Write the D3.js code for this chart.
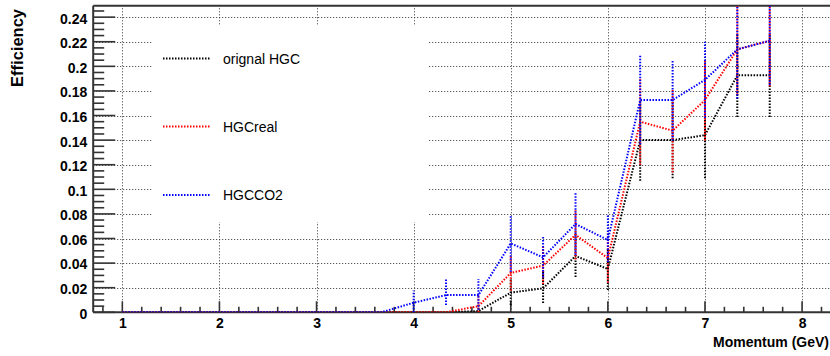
<!DOCTYPE html>
<html>
<head>
<meta charset="utf-8">
<script src="https://cdn.jsdelivr.net/npm/d3@7"></script>
<style>
  html, body { margin: 0; padding: 0; background: #fff; }
  svg { display: block; }
  text { font-family: "Liberation Sans", Arial, Helvetica, sans-serif; }
</style>
</head>
<body>
<svg id="chart" width="830" height="356"></svg>
<script>
// Bin centres (GeV)
const momentum = [1.000, 1.333, 1.667, 2.000, 2.333, 2.667, 3.000, 3.333, 3.667,
                  4.000, 4.333, 4.667, 5.000, 5.333, 5.667, 6.000, 6.333, 6.667,
                  7.000, 7.333, 7.667];

// Efficiency per bin with asymmetric errors
const effOrig     = [0,0,0,0,0,0,0,0,0, 0, 0, 0.001, 0.016, 0.0195, 0.0458, 0.0352, 0.140, 0.140, 0.144, 0.1927, 0.1927];
const errLoOrig   = [0,0,0,0,0,0,0,0,0, 0, 0, 0.001, 0.010, 0.012, 0.017, 0.017, 0.033, 0.031, 0.035, 0.034, 0.034];
const errHiOrig   = [0,0,0,0,0,0,0,0,0, 0, 0, 0.006, 0.011, 0.014, 0.020, 0.017, 0.033, 0.031, 0.035, 0.034, 0.034];

const effReal     = [0,0,0,0,0,0,0,0,0, 0, 0, 0.005, 0.032, 0.038, 0.063, 0.044, 0.155, 0.1477, 0.1726, 0.2138, 0.2208];
const errLoReal   = [0,0,0,0,0,0,0,0,0, 0, 0, 0.005, 0.0145, 0.015, 0.020, 0.020, 0.035, 0.034, 0.033, 0.037, 0.037];
const errHiReal   = [0,0,0,0,0,0,0,0,0, 0, 0, 0.009, 0.0145, 0.015, 0.020, 0.020, 0.035, 0.034, 0.033, 0.037, 0.037];

const effCO2      = [0,0,0,0,0,0,0,0,0, 0.0078, 0.014, 0.014, 0.056, 0.0447, 0.0718, 0.0588, 0.1726, 0.1726, 0.189, 0.2138, 0.2208];
const errLoCO2    = [0,0,0,0,0,0,0,0,0, 0.0078, 0.008, 0.012, 0.023, 0.0165, 0.025, 0.018, 0.036, 0.033, 0.031, 0.040, 0.036];
const errHiCO2    = [0,0,0,0,0,0,0,0,0, 0.010, 0.013, 0.013, 0.023, 0.0165, 0.025, 0.020, 0.036, 0.033, 0.031, 0.040, 0.036];

const seriesNames  = ["orignal HGC", "HGCreal", "HGCCO2"];
const seriesColors = ["#000000", "#ff0000", "#0000ff"];

const xTicks = [1, 2, 3, 4, 5, 6, 7, 8];
const yTicks = [0, 0.02, 0.04, 0.06, 0.08, 0.1, 0.12, 0.14, 0.16, 0.18, 0.2, 0.22, 0.24];

const series = [
  { name: seriesNames[0], color: seriesColors[0], eff: effOrig, lo: errLoOrig, hi: errHiOrig },
  { name: seriesNames[1], color: seriesColors[1], eff: effReal, lo: errLoReal, hi: errHiReal },
  { name: seriesNames[2], color: seriesColors[2], eff: effCO2,  lo: errLoCO2,  hi: errHiCO2 }
];

// Frame geometry
const frame = { left: 93.2, right: 831.2, top: 5.7, bottom: 312.3 };

const x = d3.scaleLinear().domain([0.7, 8.3]).range([frame.left, frame.right]);
const y = d3.scaleLinear().domain([0, 0.2493]).range([frame.bottom, frame.top]);

const svg = d3.select("#chart");

svg.append("defs").append("clipPath").attr("id", "plotClip")
  .append("rect")
  .attr("x", frame.left).attr("y", frame.top)
  .attr("width", frame.right - frame.left).attr("height", frame.bottom - frame.top);

// Grid
const grid = svg.append("g").attr("stroke", "#333").attr("stroke-width", 1)
  .attr("stroke-dasharray", "1,2");
grid.selectAll("line.v").data(xTicks).join("line")
  .attr("class", "v")
  .attr("x1", d => Math.round(x(d)) + 0.5).attr("x2", d => Math.round(x(d)) + 0.5)
  .attr("y1", frame.bottom).attr("y2", frame.top);
grid.selectAll("line.h").data(yTicks.filter(d => d > 0)).join("line")
  .attr("class", "h")
  .attr("y1", d => Math.round(y(d)) + 0.5).attr("y2", d => Math.round(y(d)) + 0.5)
  .attr("x1", frame.left).attr("x2", frame.right);

// Legend background hides the grid behind it
const legendBox = { x: 152, y: 26, w: 277, h: 196 };
svg.append("rect")
  .attr("x", legendBox.x).attr("y", legendBox.y)
  .attr("width", legendBox.w).attr("height", legendBox.h)
  .attr("fill", "#fff");

// Axes
const axisColor = "#333";
const xAxis = d3.axisBottom(x).tickValues(xTicks).tickFormat(d3.format("d"))
  .tickSize(0).tickPadding(8);
const gx = svg.append("g").attr("transform", `translate(0,${frame.bottom})`).call(xAxis);
gx.select(".domain").remove();
gx.selectAll("text").attr("font-size", 14).attr("font-weight", "bold").attr("fill", "#000")
  .attr("dy", null).attr("y", 16);

const yAxis = d3.axisLeft(y).tickValues(yTicks).tickFormat(d => d === 0 ? "0" : d3.format("")(+d.toFixed(2)))
  .tickSize(0).tickPadding(6);
const gy = svg.append("g").attr("transform", `translate(${frame.left},0)`).call(yAxis);
gy.select(".domain").remove();
gy.selectAll("text").attr("font-size", 14).attr("font-weight", "bold").attr("fill", "#000")
  .attr("dy", "0.42em");

// Tick marks
const ticks = svg.append("g").attr("stroke", axisColor).attr("stroke-width", 1.6);
const xMinor = d3.range(0.8, 8.3, 0.2).filter(v => Math.abs(v - Math.round(v)) > 1e-6);
ticks.selectAll("line.xm").data(xMinor).join("line")
  .attr("x1", d => x(d)).attr("x2", d => x(d))
  .attr("y1", frame.bottom).attr("y2", frame.bottom - 5.5);
ticks.selectAll("line.xM").data(xTicks).join("line")
  .attr("x1", d => x(d)).attr("x2", d => x(d))
  .attr("y1", frame.bottom).attr("y2", frame.bottom - 11);
const yMinor = d3.range(0, 0.2493, 0.005).filter(v => Math.abs(v / 0.02 - Math.round(v / 0.02)) > 1e-6);
ticks.selectAll("line.ym").data(yMinor).join("line")
  .attr("y1", d => y(d)).attr("y2", d => y(d))
  .attr("x1", frame.left).attr("x2", frame.left + 11);
ticks.selectAll("line.yM").data(yTicks).join("line")
  .attr("y1", d => y(d)).attr("y2", d => y(d))
  .attr("x1", frame.left).attr("x2", frame.left + 22);

// Frame lines
const frameG = svg.append("g").attr("stroke", axisColor).attr("stroke-width", 2);
frameG.append("line").attr("x1", frame.left).attr("x2", frame.right)
  .attr("y1", frame.bottom).attr("y2", frame.bottom);
frameG.append("line").attr("x1", frame.left).attr("x2", frame.left)
  .attr("y1", frame.bottom).attr("y2", frame.top);
frameG.append("line").attr("x1", frame.left).attr("x2", frame.right)
  .attr("y1", frame.top).attr("y2", frame.top);

// Data: error bars and connecting dotted lines
const plot = svg.append("g").attr("clip-path", "url(#plotClip)");
const line = d3.line().x(d => x(d.m)).y(d => y(d.v));
series.forEach(s => {
  const pts = momentum.map((m, i) => ({ m, v: s.eff[i], lo: s.lo[i], hi: s.hi[i] }));
  const g = plot.append("g").attr("stroke", s.color).attr("stroke-width", 2)
    .attr("stroke-dasharray", "1.5,1.5").attr("fill", "none");
  g.selectAll("line").data(pts.filter(p => p.lo > 0 || p.hi > 0)).join("line")
    .attr("x1", p => x(p.m)).attr("x2", p => x(p.m))
    .attr("y1", p => y(p.v - p.lo)).attr("y2", p => y(p.v + p.hi));
  g.append("path").attr("d", line(pts));
});

// Legend entries
const legendRows = [58.5, 126.5, 195];
series.forEach((s, i) => {
  svg.append("line")
    .attr("x1", 163).attr("x2", 210)
    .attr("y1", legendRows[i]).attr("y2", legendRows[i])
    .attr("stroke", s.color).attr("stroke-width", 2).attr("stroke-dasharray", "1.5,1.5");
  svg.append("text")
    .attr("x", 223).attr("y", legendRows[i] + 5)
    .attr("font-size", 14).attr("fill", "#000")
    .text(s.name);
});

// Axis titles
svg.append("text")
  .attr("x", 829).attr("y", 347)
  .attr("text-anchor", "end").attr("font-size", 14).attr("font-weight", "bold")
  .text("Momentum (GeV)");
svg.append("text")
  .attr("transform", "translate(23,9) rotate(-90)")
  .attr("text-anchor", "end").attr("font-size", 16.5).attr("font-weight", "bold")
  .text("Efficiency");
</script>
</body>
</html>
